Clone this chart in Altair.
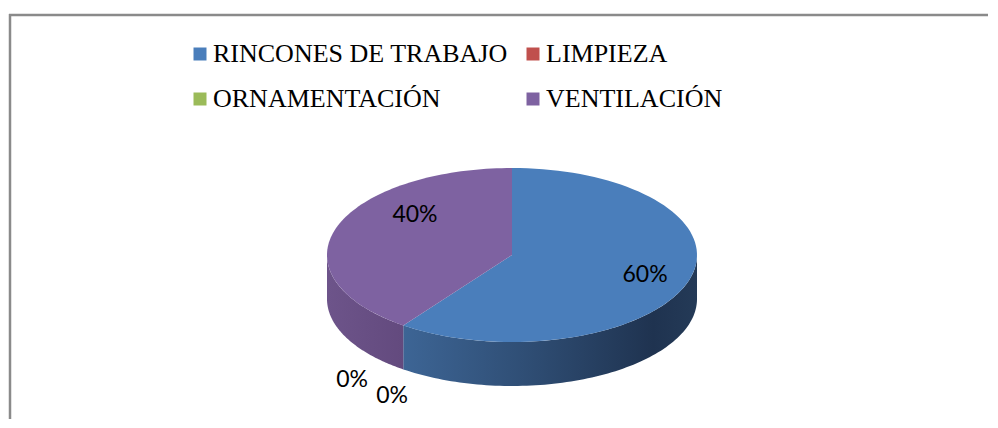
import altair as alt
import pandas as pd

# ---- data ----
categories = ["RINCONES DE TRABAJO", "LIMPIEZA", "ORNAMENTACIÓN", "VENTILACIÓN"]
values = [60, 0, 0, 40]
labels = ["60%", "0%", "0%", "40%"]
colors = ["#4a7ebb", "#c0504d", "#9bbb59", "#7e62a1"]

df = pd.DataFrame({"cat": categories, "value": values, "label": labels,
                   "idx": list(range(len(categories)))})

# ---- geometry / layout ----
W, H = 980, 411
CX, CY, R, RY, DEPTH = 512, 255, 185, 87, 44   # page-pixel pie placement
tilt = RY / R
depth = DEPTH / R
N = 90
xs = alt.Scale(domain=[(8 - CX) / R, (8 + W - CX) / R], nice=False, zero=False)
ys = alt.Scale(domain=[(8 - CY) / R, (8 + H - CY) / R], nice=False, zero=False, reverse=True)
X = lambda f: alt.X(f, type="quantitative", scale=xs, axis=None)
Y = lambda f: alt.Y(f, type="quantitative", scale=ys, axis=None)

base = alt.Chart(df)


def with_angles(ch):
    return ch.transform_window(
        cum="sum(value)", sort=[alt.SortField("idx")], frame=[None, 0]
    ).transform_joinaggregate(total="sum(value)").transform_calculate(
        a0="2*PI*(datum.cum - datum.value)/datum.total",
        a1="2*PI*datum.cum/datum.total",
    )


# side (depth) of each slice, front half only
side_grads = {
    0: [("#3d6595", 0.0), ("#2e4c72", 0.45), ("#1f3350", 0.85), ("#243a57", 1.0)],
    3: [("#6d548a", 0.0), ("#634a7e", 1.0)],
}
sides = []
for i, stops in side_grads.items():
    grad = alt.Gradient(gradient="linear",
                        stops=[alt.GradientStop(color=c, offset=o) for c, o in stops],
                        x1=0, x2=1, y1=0, y2=0)
    s = with_angles(base).transform_filter(f"datum.idx == {i}").transform_calculate(
        s0="max(datum.a0, PI/2)", s1="min(datum.a1, 3*PI/2)"
    ).transform_filter("datum.s1 > datum.s0").transform_calculate(
        steps=f"sequence(0, {N + 1})"
    ).transform_flatten(["steps"]).transform_calculate(
        th=f"datum.s0 + (datum.s1 - datum.s0) * datum.steps / {N}",
        px="sin(datum.th)",
        py=f"-cos(datum.th) * {tilt}",
        py2=f"-cos(datum.th) * {tilt} + {depth}",
    ).mark_area(color=grad).encode(x=X("px"), y=Y("py"), y2="py2:Q")
    sides.append(s)

# top face
top = with_angles(base).transform_filter("datum.value > 0").transform_calculate(
    steps=f"sequence(0, {N + 2})"
).transform_flatten(["steps"]).transform_calculate(
    th=f"datum.a0 + (datum.a1 - datum.a0) * max(datum.steps - 1, 0) / {N}",
    px="datum.steps == 0 ? 0 : sin(datum.th)",
    py=f"datum.steps == 0 ? 0 : -cos(datum.th) * {tilt}",
).mark_line(filled=True, strokeWidth=0).encode(
    x=X("px"), y=Y("py"),
    order=alt.Order("steps:Q"),
    color=alt.Color(
        "cat:N",
        scale=alt.Scale(domain=categories, range=colors),
        sort=categories,
        legend=alt.Legend(
            title=None, orient="none", legendX=179, legendY=33, columns=2,
            direction="horizontal", symbolType="square", symbolSize=169,
            symbolStrokeWidth=0, symbolOpacity=1, labelFont="Liberation Serif",
            labelFontSize=26, labelColor="#000000", labelOffset=0,
            columnPadding=12, rowPadding=19, padding=0, labelLimit=0,
        ),
    ),
)


def text_layer(filt, k, extra_depth, dx, dy):
    return with_angles(base).transform_filter(filt).transform_calculate(
        mid="(datum.a0 + datum.a1) / 2",
        lx=f"{k} * sin(datum.mid)",
        ly=f"-{k} * cos(datum.mid) * {tilt} + {extra_depth}",
    ).mark_text(font="Lato", fontSize=23, color="#000000", align="center",
                baseline="middle", dx=dx, dy=dy).encode(
        x=X("lx"), y=Y("ly"), text="label:N")


t60 = text_layer("datum.idx == 0", 0.756, 0, 0, 0)
t40 = text_layer("datum.idx == 3", 0.756, 0, 36, -20)
t0a = text_layer("datum.idx == 1", 1.25, depth, -24, -7)
t0b = text_layer("datum.idx == 2", 1.25, depth, 16, 9)

frame_df = pd.DataFrame({"k": [0]})
rule_top = alt.Chart(frame_df).mark_rule(color="#8a8a8a", strokeWidth=2.5).encode(
    x=alt.value(1), x2=alt.value(W), y=alt.value(7))
rule_left = alt.Chart(frame_df).mark_rule(color="#8a8a8a", strokeWidth=2.5).encode(
    x=alt.value(2), y=alt.value(6), y2=alt.value(H))

chart = alt.layer(*sides, top, t60, t40, t0a, t0b, rule_top, rule_left).properties(
    width=W, height=H, padding=0, autosize=alt.AutoSizeParams(type="none"),
    background="white",
).configure_view(stroke=None)

chart.save("out.html", embed_options={"renderer": "svg", "actions": False})
